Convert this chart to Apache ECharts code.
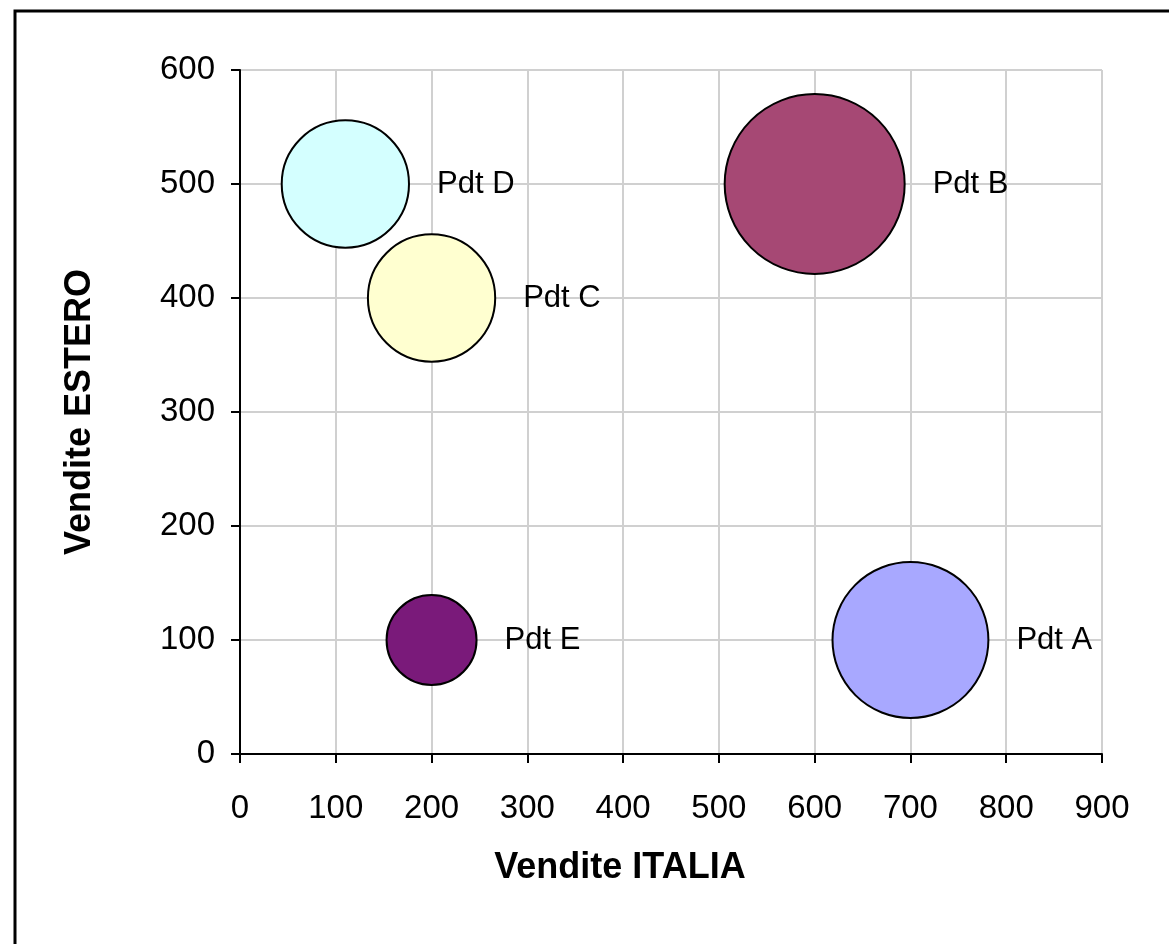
<!DOCTYPE html>
<html>
<head>
<meta charset="utf-8">
<script src="https://cdn.jsdelivr.net/npm/echarts@6/dist/echarts.min.js"></script>
<style>
html,body{margin:0;padding:0;background:#fff;}
#chart{width:1169px;height:944px;}
</style>
</head>
<body>
<div id="chart"></div>
<script>
// Data
const products = ['Pdt A', 'Pdt B', 'Pdt C', 'Pdt D', 'Pdt E'];
const venditeItalia = [700, 600, 200, 110, 200];
const venditeEstero = [100, 500, 400, 500, 100];
const bubbleSize = [60, 80, 40, 40, 20];
const colors = ['#a8a8ff', '#a64874', '#ffffd0', '#d4ffff', '#7a1a7a'];
const xTicks = [0, 100, 200, 300, 400, 500, 600, 700, 800, 900];
const yTicks = [0, 100, 200, 300, 400, 500, 600];

const maxSize = Math.max(...bubbleSize);
const maxDiameter = 180;
const FONT = '"Liberation Sans", Arial, sans-serif';

const chart = echarts.init(document.getElementById('chart'), null, {renderer: 'canvas'});

const series = products.map((p, i) => ({
  name: p,
  type: 'scatter',
  data: [[venditeItalia[i], venditeEstero[i], bubbleSize[i]]],
  symbolSize: d => maxDiameter * Math.sqrt(d[2] / maxSize),
  itemStyle: {color: colors[i], borderColor: '#000', borderWidth: 2, opacity: 1},
  label: {
    show: true,
    position: 'right',
    distance: 27,
    formatter: p,
    color: '#000',
    fontFamily: FONT,
    fontSize: 31
  },
  emphasis: {disabled: true}
}));

chart.setOption({
  animation: false,
  backgroundColor: '#fff',
  grid: {left: 240, right: 67, top: 70, bottom: 190, containLabel: false},
  graphic: [{
    type: 'rect',
    shape: {x: 15, y: 11, width: 1300, height: 1100},
    style: {fill: 'none', stroke: '#000', lineWidth: 3},
    silent: true
  }],
  xAxis: {
    type: 'value',
    min: xTicks[0],
    max: xTicks[xTicks.length - 1],
    interval: 100,
    name: 'Vendite ITALIA',
    nameLocation: 'middle',
    nameGap: 96,
    nameTextStyle: {fontFamily: FONT, fontSize: 36, fontWeight: 'bold', color: '#000', padding: [0, 102, 0, 0]},
    axisLine: {show: true, lineStyle: {color: '#000', width: 2}},
    axisTick: {show: true, length: 9, lineStyle: {color: '#000', width: 2}},
    axisLabel: {fontFamily: FONT, fontSize: 33, color: '#000', margin: 38},
    splitLine: {show: true, lineStyle: {color: '#d0d0d0', width: 2}}
  },
  yAxis: {
    type: 'value',
    min: yTicks[0],
    max: yTicks[yTicks.length - 1],
    interval: 100,
    name: 'Vendite ESTERO',
    nameLocation: 'middle',
    nameGap: 142,
    nameRotate: 90,
    nameTextStyle: {fontFamily: FONT, fontSize: 36, fontWeight: 'bold', color: '#000'},
    axisLine: {show: true, lineStyle: {color: '#000', width: 2}},
    axisTick: {show: true, length: 9, lineStyle: {color: '#000', width: 2}},
    axisLabel: {fontFamily: FONT, fontSize: 33, color: '#000', margin: 25},
    splitLine: {show: true, lineStyle: {color: '#d0d0d0', width: 2}}
  },
  series: series
});
</script>
</body>
</html>
